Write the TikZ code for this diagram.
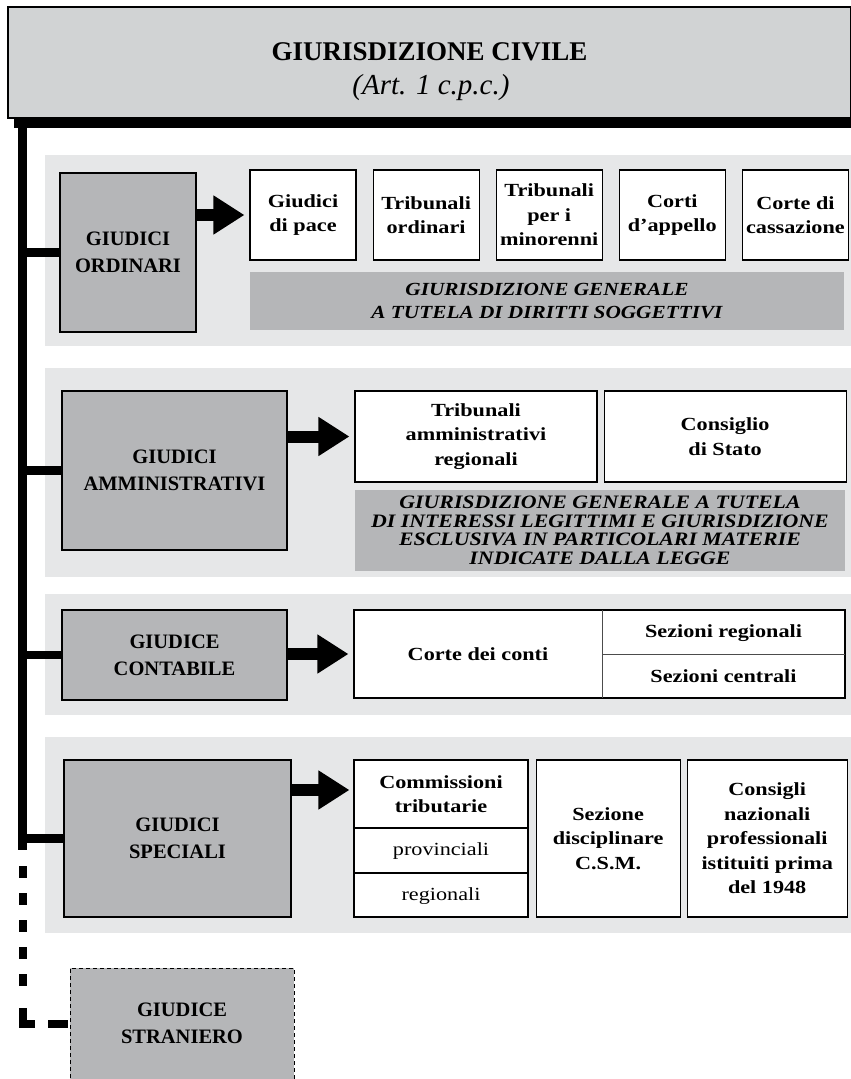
\documentclass[tikz,border=0pt]{standalone}
\usepackage{fontspec}
\setmainfont{Liberation Serif}
\newfontfamily\widefont[Ligatures=TeX,FakeStretch=1.2]{Liberation Serif}
\newfontfamily\barfont[Ligatures=TeX,FakeStretch=1.15]{Liberation Serif}
\usetikzlibrary{positioning,arrows.meta}

\definecolor{panelgrey}{HTML}{E6E7E8}
\definecolor{courtgrey}{HTML}{B5B6B8}
\definecolor{headgrey}{HTML}{D1D3D4}

\tikzset{
    court/.style={draw, fill=courtgrey, line width=1.4pt, align=center, inner sep=0pt,
        font=\fontsize{20.5}{27}\selectfont\bfseries},
    seat/.style={draw, fill=white, line width=1.1pt, align=center, inner sep=0pt,
        font=\widefont\fontsize{18.5}{24.5}\selectfont\bfseries},
    competence/.style={fill=courtgrey, align=center, inner sep=0pt,
        font=\barfont\fontsize{18.5}{23}\selectfont\bfseries\itshape},
    cell/.style={align=center, inner sep=0pt, font=\widefont\fontsize{18.5}{24.5}\selectfont},
    branch/.style={line width=8.5pt},
    push/.style={line width=12pt, -{Triangle[length=31pt,width=37pt]}},
}

\begin{document}
\begin{tikzpicture}[x=1pt,y=-1pt]
    \useasboundingbox (0,0) rectangle (851,1079);

    % header
    \fill (14,112) rectangle (851,128);
    \node[draw, fill=headgrey, line width=1.4pt, minimum width=843pt, minimum height=111pt] (civile) at (429.5,62.5) {};
    \node[font=\fontsize{27}{30}\selectfont\bfseries, inner sep=0pt] (title) at (429.5,52) {GIURISDIZIONE CIVILE};
    \node[font=\fontsize{29}{30}\selectfont\itshape, inner sep=0pt] (article) at (431,88) {(Art. 1 c.p.c.)};

    % panels
    \fill[panelgrey] (45,155) rectangle (851,346);
    \fill[panelgrey] (45,368) rectangle (851,577);
    \fill[panelgrey] (45,594) rectangle (851,715);
    \fill[panelgrey] (45,737) rectangle (851,933);

    % trunk
    \coordinate (trunk top) at (22.5,122);
    \coordinate (trunk end) at (22.5,850);
    \coordinate (foreign top) at (22.5,866);
    \draw[line width=9pt] (trunk top) -- (trunk end);

    % giudici ordinari
    \node[court, minimum width=136pt, minimum height=159pt] (ord) at (128,252.5) {GIUDICI\\ORDINARI};
    \node[seat, minimum width=106pt, minimum height=90pt] (pace) at (303,215) {Giudici\\di pace};
    \node[seat, minimum width=106pt, minimum height=90pt, right=16pt of pace] (tribord) {Tribunali\\ordinari};
    \node[seat, minimum width=106pt, minimum height=90pt, right=16pt of tribord] (minori) {Tribunali\\per i\\minorenni};
    \node[seat, minimum width=106pt, minimum height=90pt, right=16pt of minori] (appello) {Corti\\d'appello};
    \node[seat, minimum width=106pt, minimum height=90pt, right=16pt of appello] (cassaz) {Corte di\\cassazione};
    \node[competence, minimum width=594pt, minimum height=58pt] (dirsogg) at (547,301)
        {GIURISDIZIONE GENERALE\\A TUTELA DI DIRITTI SOGGETTIVI};
    \draw[branch] (trunk top |- ord.west) -- (ord.west);
    \draw[push] (ord.east |- pace.west) -- ([xshift=-5pt]pace.west);

    % giudici amministrativi
    \node[court, minimum width=225pt, minimum height=159pt] (amm) at (174.5,470.5) {GIUDICI\\AMMINISTRATIVI};
    \node[seat, minimum width=242pt, minimum height=91pt] (tar) at (476,436.5) {Tribunali\\amministrativi\\regionali};
    \node[seat, minimum width=242pt, minimum height=91pt, right=6pt of tar] (stato) {Consiglio\\di Stato};
    \node[competence, minimum width=490pt, minimum height=81pt,
        font=\barfont\fontsize{19}{18.5}\selectfont\bfseries\itshape] (intleg) at (600,530.5)
        {GIURISDIZIONE GENERALE A TUTELA\\DI INTERESSI LEGITTIMI E GIURISDIZIONE\\ESCLUSIVA IN PARTICOLARI MATERIE\\INDICATE DALLA LEGGE};
    \draw[branch] (trunk top |- amm.west) -- (amm.west);
    \draw[push] (amm.east |- tar.west) -- ([xshift=-5pt]tar.west);

    % giudice contabile
    \node[court, minimum width=225pt, minimum height=90pt] (cont) at (174.5,655) {GIUDICE\\CONTABILE};
    \node[seat, minimum width=491pt, minimum height=88pt] (conti) at (599.5,654) {};
    \draw[line width=0.9pt, black!70] (602,610) -- (602,698);
    \draw[line width=0.9pt, black!70] (602,654) -- (845,654);
    \node[seat, draw=none, fill=none] (conti txt) at (478,654) {Corte dei conti};
    \node[seat, draw=none, fill=none] (sezreg) at (723.5,633) {Sezioni regionali};
    \node[seat, draw=none, fill=none] (sezcen) at (723.5,676) {Sezioni centrali};
    \draw[branch] (trunk top |- cont.west) -- (cont.west);
    \draw[push] (cont.east |- conti.west) -- ([xshift=-5pt]conti.west);

    % giudici speciali
    \node[court, minimum width=227pt, minimum height=157pt] (spec) at (177.5,838.5) {GIUDICI\\SPECIALI};
    \node[seat, minimum width=174pt, minimum height=157pt] (comm) at (441,838.5) {};
    \draw[line width=1.1pt] (354,828) -- (528,828);
    \draw[line width=1.1pt] (354,873) -- (528,873);
    \node[seat, draw=none, fill=none] (tribut) at (441,794) {Commissioni\\tributarie};
    \node[cell] (prov) at (441,851) {provinciali};
    \node[cell] (regio) at (441,896) {regionali};
    \node[seat, minimum width=144pt, minimum height=157pt, right=7pt of comm] (csm) {Sezione\\disciplinare\\C.S.M.};
    \node[seat, minimum width=160pt, minimum height=157pt, right=6pt of csm] (ordini)
        {Consigli\\nazionali\\professionali\\istituiti prima\\del 1948};
    \draw[branch] (trunk top |- spec.west) -- (spec.west);
    \draw[push] ([yshift=4pt]spec.east |- tribut.west) -- ([xshift=-4pt,yshift=4pt]comm.west |- tribut.west);

    % giudice straniero
    \node[court, line width=0.8pt, dash pattern=on 4pt off 3pt, minimum width=224pt, minimum height=111pt]
        (stra) at (182,1023.5) {GIUDICE\\STRANIERO};
    \draw[line width=8pt, dash pattern=on 12pt off 15pt on 12pt off 15pt on 12pt off 15pt on 12pt off 15pt
        on 12pt off 22pt on 28pt off 13pt on 20pt] (foreign top) |- (stra.west);
\end{tikzpicture}
\end{document}
